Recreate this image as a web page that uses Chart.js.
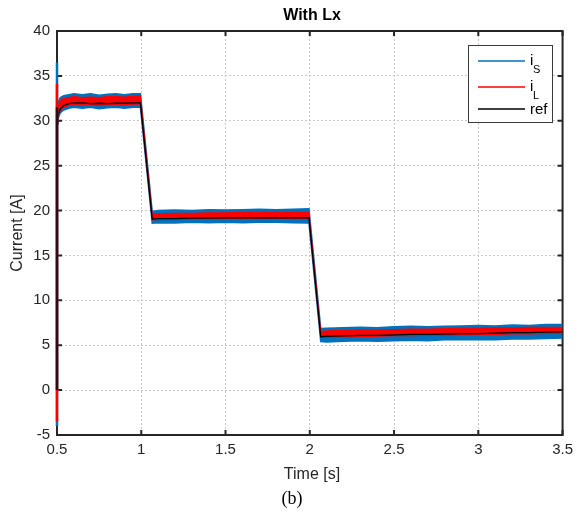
<!DOCTYPE html>
<html>
<head>
<meta charset="utf-8">
<script src="https://cdn.jsdelivr.net/npm/chart.js@4"></script>
<style>
  html, body { margin: 0; padding: 0; background: #fff; }
</style>
</head>
<body>
<canvas id="myChart" width="579" height="512"></canvas>
<script>
// time axis [s] shared by every trace
const tiempo = [
  0.5, 0.505, 0.52, 0.54, 0.57, 0.6, 0.65, 0.7, 0.75, 0.8, 0.85, 0.9, 0.95, 0.995,
  1.065, 1.1, 1.2, 1.3, 1.4, 1.5, 1.6, 1.7, 1.8, 1.9, 1.995,
  2.065, 2.1, 2.2, 2.3, 2.4, 2.5, 2.6, 2.7, 2.8, 2.9, 3.0, 3.1, 3.2, 3.3, 3.4, 3.5
];

// reference current
const corrienteRef = [
  29.6, 30.6, 31.3, 31.7, 31.9, 32.0, 32.0, 31.9, 31.95, 31.9, 31.95, 31.95, 32.0, 32.0,
  19.05, 19.1, 19.1, 19.15, 19.15, 19.2, 19.2, 19.2, 19.2, 19.2, 19.2,
  5.95, 6.0, 6.05, 6.1, 6.1, 6.15, 6.2, 6.2, 6.25, 6.3, 6.3, 6.35, 6.4, 6.4, 6.45, 6.5
];

// i_L ripple envelope
const iLmax = [
  30.8, 31.6, 32.3, 32.5, 32.6, 32.7, 32.6, 32.65, 32.6, 32.7, 32.7, 32.65, 32.75, 32.8,
  19.6, 19.65, 19.7, 19.7, 19.75, 19.75, 19.8, 19.8, 19.8, 19.8, 19.8,
  6.55, 6.6, 6.65, 6.7, 6.7, 6.75, 6.8, 6.8, 6.85, 6.9, 6.9, 6.95, 6.95, 7.0, 7.0, 7.0
];
const iLmin = [
  30.0, 30.6, 31.2, 31.5, 31.7, 31.8, 31.75, 31.8, 31.7, 31.8, 31.8, 31.75, 31.85, 31.85,
  18.95, 19.0, 19.05, 19.05, 19.1, 19.1, 19.1, 19.15, 19.15, 19.1, 19.15,
  5.85, 5.9, 5.95, 5.95, 6.0, 6.05, 6.05, 6.1, 6.1, 6.15, 6.2, 6.2, 6.25, 6.25, 6.3, 6.3
];

// i_S ripple envelope
const iSmax = [
  31.2, 32.0, 32.6, 32.8, 32.9, 33.0, 32.9, 33.0, 32.85, 32.95, 33.0, 32.9, 33.0, 33.0,
  19.9, 20.0, 20.05, 20.0, 20.1, 20.05, 20.1, 20.15, 20.1, 20.15, 20.2,
  6.85, 6.9, 6.95, 7.0, 6.95, 7.05, 7.1, 7.05, 7.1, 7.15, 7.2, 7.15, 7.25, 7.2, 7.3, 7.3
];
const iSmin = [
  29.8, 30.2, 30.9, 31.2, 31.4, 31.5, 31.4, 31.5, 31.35, 31.45, 31.5, 31.4, 31.5, 31.5,
  18.6, 18.65, 18.6, 18.7, 18.65, 18.7, 18.65, 18.7, 18.7, 18.65, 18.6,
  5.4, 5.35, 5.45, 5.5, 5.45, 5.5, 5.55, 5.5, 5.6, 5.6, 5.65, 5.6, 5.7, 5.7, 5.75, 5.8
];

// start-up transient at t = 0.5 s
const tArranque = [0.5, 0.5];
const arranqueS = [-4, 36.5];
const arranqueL = [-3.5, 34.1];
const arranqueRef = [0, 31.5];

const ticksX = [0.5, 1, 1.5, 2, 2.5, 3, 3.5];
const etiquetasX = ['0.5', '1', '1.5', '2', '2.5', '3', '3.5'];
const ticksY = [-5, 0, 5, 10, 15, 20, 25, 30, 35, 40];

const azul = '#0072BD';
const rojo = '#FF0000';
const negro = '#000000';
const texto = '#262626';
const fuente = "'Liberation Sans', Arial, sans-serif";

function puntos(xs, ys) {
  return xs.map((x, i) => ({ x: x, y: ys[i] }));
}

// axis box with inward ticks, MATLAB style
const marco = {
  id: 'marco',
  beforeDatasetsDraw(chart) {
    const { ctx, chartArea: a, scales } = chart;
    ctx.save();
    ctx.strokeStyle = texto;
    ctx.lineWidth = 2;
    ctx.strokeRect(a.left, a.top, a.right - a.left, a.bottom - a.top);
    ctx.beginPath();
    ticksX.forEach(v => {
      const px = scales.x.getPixelForValue(v);
      ctx.moveTo(px, a.bottom); ctx.lineTo(px, a.bottom - 5);
      ctx.moveTo(px, a.top); ctx.lineTo(px, a.top + 5);
    });
    ticksY.forEach(v => {
      const py = scales.y.getPixelForValue(v);
      ctx.moveTo(a.left, py); ctx.lineTo(a.left + 5, py);
      ctx.moveTo(a.right, py); ctx.lineTo(a.right - 5, py);
    });
    ctx.stroke();
    ctx.restore();
  }
};

// legend box, titles and caption
const textos = {
  id: 'textos',
  afterDraw(chart) {
    const ctx = chart.ctx;
    ctx.save();

    const bx = 468, by = 45, bw = 84, bh = 77;
    ctx.fillStyle = '#fff';
    ctx.fillRect(bx, by, bw, bh);
    ctx.strokeStyle = '#3c3c3c';
    ctx.lineWidth = 1;
    ctx.strokeRect(bx + 0.5, by + 0.5, bw, bh);

    const filas = [
      { color: azul, y: 61, txt: 'i', sub: 'S' },
      { color: rojo, y: 87, txt: 'i', sub: 'L' },
      { color: negro, y: 109, txt: 'ref', sub: '' }
    ];
    filas.forEach(f => {
      ctx.strokeStyle = f.color;
      ctx.lineWidth = 1.5;
      ctx.beginPath();
      ctx.moveTo(478, f.y);
      ctx.lineTo(525, f.y);
      ctx.stroke();
      ctx.fillStyle = negro;
      ctx.textBaseline = 'alphabetic';
      ctx.textAlign = 'left';
      ctx.font = '15px ' + fuente;
      ctx.fillText(f.txt, 530, f.sub ? f.y + 4 : f.y + 5);
      if (f.sub) {
        ctx.font = '11px ' + fuente;
        ctx.fillText(f.sub, 533, f.y + 12);
      }
    });

    ctx.fillStyle = negro;
    ctx.textAlign = 'center';
    ctx.textBaseline = 'middle';
    ctx.font = 'bold 16px ' + fuente;
    ctx.fillText('With Lx', 312, 16);

    ctx.fillStyle = texto;
    ctx.font = '16px ' + fuente;
    ctx.fillText('Time [s]', 312, 475);

    ctx.save();
    ctx.translate(18, 233);
    ctx.rotate(-Math.PI / 2);
    ctx.fillText('Current [A]', 0, 0);
    ctx.restore();

    ctx.fillStyle = negro;
    ctx.font = "18px 'Liberation Serif', 'Times New Roman', serif";
    ctx.fillText('(b)', 292, 499);
    ctx.fillStyle = '#9a9a9a';
    ctx.fillText('(a)', 292, -9);

    ctx.restore();
  }
};

const config = {
  type: 'line',
  data: {
    datasets: [
      { data: puntos(tArranque, arranqueRef), borderColor: '#2b0d12', borderWidth: 2.5, clip: 5, order: 0 },
      { data: puntos(tArranque, arranqueL), borderColor: rojo, borderWidth: 2.5, clip: 5, order: 1 },
      { data: puntos(tArranque, arranqueS), borderColor: azul, borderWidth: 2.5, clip: 5, order: 2 },
      { data: puntos(tiempo, corrienteRef), borderColor: negro, borderWidth: 1.3, order: 3 },
      { data: puntos(tiempo, iLmax), borderColor: rojo, borderWidth: 1, order: 4 },
      { data: puntos(tiempo, iLmin), borderColor: rojo, backgroundColor: rojo, borderWidth: 1, fill: '-1', order: 4 },
      { data: puntos(tiempo, iSmax), borderColor: azul, borderWidth: 1.5, order: 5 },
      { data: puntos(tiempo, iSmin), borderColor: azul, backgroundColor: azul, borderWidth: 1.5, fill: '-1', order: 5 }
    ]
  },
  options: {
    responsive: false,
    animation: false,
    devicePixelRatio: 1,
    elements: { point: { radius: 0 }, line: { tension: 0 } },
    layout: { padding: { top: 31, right: 12, left: 0, bottom: 0 } },
    plugins: { legend: { display: false }, tooltip: { enabled: false } },
    scales: {
      x: {
        type: 'linear',
        min: 0.5,
        max: 3.5,
        afterFit: s => { s.height = 77; },
        afterBuildTicks: s => { s.ticks = ticksX.map(v => ({ value: v })); },
        grid: { color: '#c8c8c8', drawTicks: false },
        border: { display: false, dash: [2, 2] },
        ticks: {
          color: texto,
          font: { family: fuente, size: 15 },
          padding: 6,
          maxRotation: 0,
          callback: (v, i) => etiquetasX[i]
        }
      },
      y: {
        min: -5,
        max: 40,
        afterFit: s => { s.width = 57; },
        afterBuildTicks: s => { s.ticks = ticksY.map(v => ({ value: v })); },
        grid: { color: '#c8c8c8', drawTicks: false },
        border: { display: false, dash: [2, 2] },
        ticks: { color: texto, font: { family: fuente, size: 15 }, padding: 7 }
      }
    }
  },
  plugins: [marco, textos]
};

const chart = new Chart(document.getElementById('myChart'), config);
</script>
</body>
</html>
